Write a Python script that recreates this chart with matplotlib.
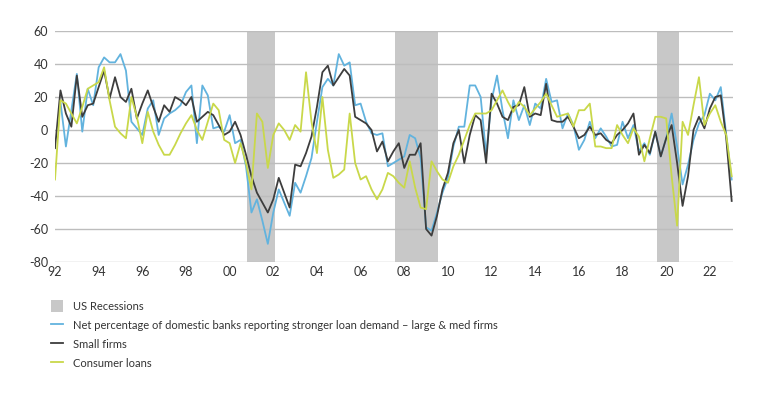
import matplotlib

matplotlib.use("Agg")
import matplotlib.pyplot as plt
import numpy as np
from matplotlib.patches import Patch
from matplotlib.lines import Line2D

# quarterly observations, 1992Q1 .. 2023Q1
START_YEAR = 1992.0
LARGE_MED = [
    np.nan, 17, -10, 12,      # 1992
    34, -1, 25, 15,           # 1993
    38, 44, 41, 41,           # 1994
    46, 36, 5, 1,             # 1995
    -3, 13, 18, -3,           # 1996
    7, 10, 12, 15,            # 1997
    23, 27, -8, 27,           # 1998
    21, 1, 2, -1,             # 1999
    9, -8, -6, -22,           # 2000
    -50, -42, -55, -69,       # 2001
    -50, -36, -44, -52,       # 2002
    -32, -38, -28, -17,       # 2003
    5, 26, 31, 27,            # 2004
    46, 39, 41, 15,           # 2005
    16, 5, -2, -3,            # 2006
    -2, -22, -20, -18,        # 2007
    -16, -3, -5, -17,         # 2008
    -59, -61, -50, -38,       # 2009
    -29, -10, 2, 2,           # 2010
    27, 27, 20, -15,          # 2011
    18, 33, 12, -5,           # 2012
    18, 6, 15, 3,             # 2013
    16, 13, 31, 17,           # 2014
    18, 1, 10, 3,             # 2015
    -12, -6, 5, -5,           # 2016
    1, -4, -10, -9,           # 2017
    5, -5, 3, -13,            # 2018
    -8, -15, -1, -16,         # 2019
    -5, 10, -10, -33,         # 2020
    -21, -6, 4, 9,            # 2021
    22, 18, 26, -3,           # 2022
    -30,                      # 2023
]
SMALL = [
    -11, 24, 10, 2,
    33, 8, 15, 16,
    26, 36, 19, 32,
    20, 17, 25, 7,
    16, 24, 14, 5,
    15, 11, 20, 18,
    15, 20, 5, 8,
    11, 9, 3, -3,
    -1, 5, -3, -15,
    -28, -38, -44, -50,
    -42, -29, -38, -47,
    -21, -22, -14, -4,
    14, 35, 39, 27,
    32, 37, 33, 8,
    6, 4, 0, -13,
    -7, -19, -13, -8,
    -23, -15, -15, -8,
    -60, -64, -52, -36,
    -26, -8, 0, -20,
    -3, 9, 6, -20,
    22, 16, 8, 6,
    14, 15, 26, 8,
    10, 9, 28, 6,
    5, 5, 8, 2,
    -5, -3, 2, -3,
    -2, -6, -8, -3,
    0, 4, 10, -15,
    -9, -14, -1, -16,
    -5, 3, -20, -46,
    -28, 0, 8, 1,
    13, 20, 21, -5,
    -43,
]
CONSUMER = [
    -30, 18, 16, 10,
    4, 14, 25, 27,
    29, 38, 18, 2,
    -2, -5, 20, 8,
    -8, 11, -1, -9,
    -15, -15, -9, -2,
    4, 9, 0, -6,
    5, 16, 12, -6,
    -8, -20, -8, -20,
    -36, 10, 5, -23,
    -3, 4, 0, -6,
    3, -1, 35, 5,
    -14, 20, -12, -29,
    -27, -24, 10, -20,
    -30, -28, -36, -42,
    -36, -26, -28, -32,
    -35, -19, -35, -47,
    -48, -19, -25, -30,
    -32, -22, -15, -6,
    3, 10, 10, 10,
    12, 18, 24, 17,
    11, 17, 14, 9,
    13, 17, 22, 15,
    8, 9, 10, 2,
    12, 12, 16, -10,
    -10, -11, -11, 3,
    -3, -8, 1, -4,
    -19, -5, 8, 8,
    7, -28, -58, 5,
    -3, 15, 32, 3,
    10, 15, 5, -3,
    -28,
]
RECESSIONS = [(2000.8, 2002.08), (2007.57, 2009.53), (2019.56, 2020.57)]
YTICKS = [60, 40, 20, 0, -20, -40, -60, -80]
XTICK_YEARS = list(range(1992, 2023, 2))

LABELS = [
    "US Recessions",
    "Net percentage of domestic banks reporting stronger loan demand \u2013 large & med firms",
    "Small firms",
    "Consumer loans",
]
BLUE = "#62b3de"
DARK = "#3d3d3d"
GREEN = "#c9d84a"
SHADE = "#c8c8c8"
GRID = "#bdbdbd"
TEXT = "#333333"

plt.rcParams["font.family"] = ["Lato", "DejaVu Sans"]

t = START_YEAR + 0.25 * np.arange(len(SMALL))

fig = plt.figure(figsize=(7.8, 3.93), dpi=100)
ax = fig.add_axes([55 / 780, 1 - 262 / 393, (733 - 55) / 780, (262 - 31) / 393])

for start, end in RECESSIONS:
    ax.axvspan(start, end, color=SHADE, lw=0, zorder=0)

for y in YTICKS:
    ax.axhline(y, color=GRID, lw=1.0, zorder=1)

ax.plot(t, LARGE_MED, color=BLUE, lw=1.3, zorder=3)
ax.plot(t, SMALL, color=DARK, lw=1.3, zorder=4)
ax.plot(t, CONSUMER, color=GREEN, lw=1.3, zorder=5)

ax.set_xlim(START_YEAR, 2023.06)
ax.set_ylim(-80, 60)
ax.set_yticks(YTICKS)
ax.set_yticklabels([str(v) for v in YTICKS])
ax.set_xticks(XTICK_YEARS)
ax.set_xticklabels([f"{y % 100:02d}" for y in XTICK_YEARS])
ax.tick_params(length=0, labelsize=9, labelcolor=TEXT)
ax.tick_params(axis="y", pad=5)
ax.tick_params(axis="x", pad=3)
for spine in ax.spines.values():
    spine.set_visible(False)

handles = [
    Patch(facecolor=SHADE, edgecolor="none"),
    Line2D([], [], color=BLUE, lw=1.3),
    Line2D([], [], color=DARK, lw=1.3),
    Line2D([], [], color=GREEN, lw=1.3),
]
fig.legend(
    handles,
    LABELS,
    loc="upper left",
    bbox_to_anchor=(0.058, 0.25),
    frameon=False,
    fontsize=8,
    handlelength=1.1,
    handleheight=1.3,
    handletextpad=0.9,
    labelspacing=0.62,
    labelcolor=TEXT,
    borderpad=0,
)

fig.savefig("out.png", dpi=100)
